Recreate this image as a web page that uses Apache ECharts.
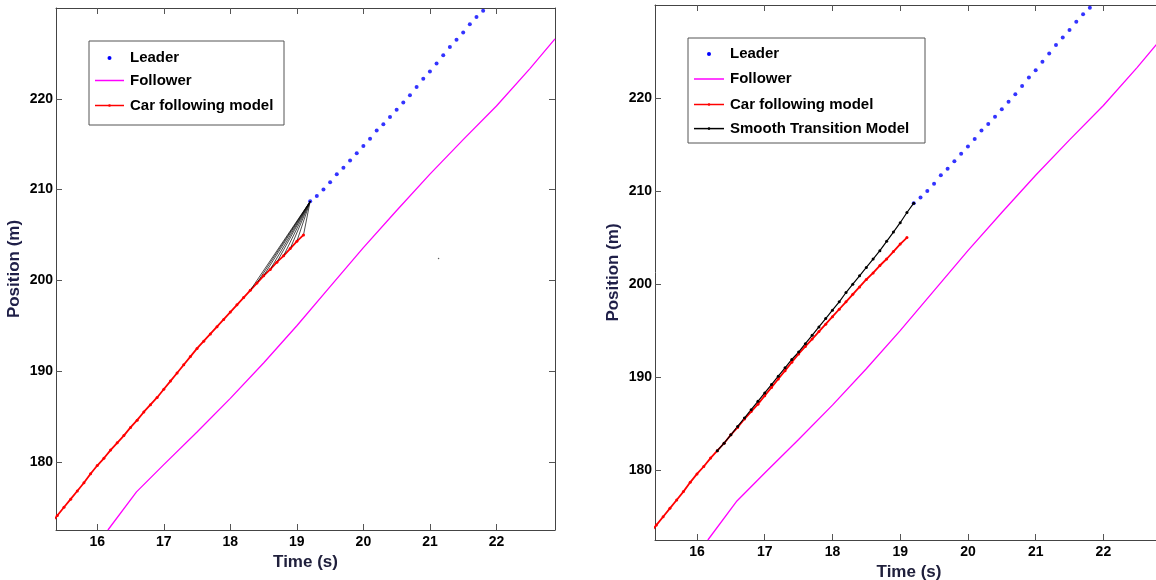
<!DOCTYPE html>
<html>
<head>
<meta charset="utf-8">
<title>Position vs time</title>
<script src="https://cdn.jsdelivr.net/npm/echarts@6/dist/echarts.min.js"></script>
<style>
  html, body { margin: 0; padding: 0; background: #fff; }
  #chart { width: 1156px; height: 580px; }
</style>
</head>
<body>
<div id="chart"></div>
<script>
// tick labels
const timeTicks = [16, 17, 18, 19, 20, 21, 22]
const posTicks = [180, 190, 200, 210, 220]

// leader, one sample every 0.1 s
const leaderTime = [19.2, 19.3, 19.4, 19.5, 19.6, 19.7, 19.8, 19.9, 20.0, 20.1, 20.2, 20.3, 20.4, 20.5,
  20.6, 20.7, 20.8, 20.9, 21.0, 21.1, 21.2, 21.3, 21.4, 21.5, 21.6, 21.7, 21.8]
const leaderPos = [208.7, 209.3, 210.0, 210.8, 211.7, 212.4, 213.2, 214.0, 214.8, 215.6, 216.5, 217.2, 218.0, 218.8,
  219.6, 220.4, 221.3, 222.2, 223.0, 223.9, 224.8, 225.7, 226.5, 227.3, 228.2, 229.0, 229.7]

// follower
const followerTime = [16.16, 16.59, 17.0, 17.5, 18.0, 18.5, 19.0, 19.5, 20.0, 20.5, 21.0, 21.5, 22.0, 22.5, 22.88]
const followerPos = [172.5, 176.7, 179.7, 183.3, 187.0, 190.9, 195.0, 199.3, 203.6, 207.7, 211.7, 215.5, 219.2, 223.3, 226.6]

// car following model
const cfmTime = [15.3, 15.4, 15.5, 15.6, 15.7, 15.8, 15.9, 16.0, 16.1, 16.2, 16.3, 16.4, 16.5, 16.6, 16.7, 16.8, 16.9,
  17.0, 17.1, 17.2, 17.3, 17.4, 17.5, 17.6, 17.7, 17.8, 17.9, 18.0, 18.1, 18.2, 18.3, 18.4, 18.5, 18.6,
  18.7, 18.8, 18.9, 19.0, 19.1]
const cfmPos = [173.2, 174.1, 175.0, 175.9, 176.8, 177.7, 178.7, 179.6, 180.4, 181.3, 182.1, 182.9, 183.8, 184.6, 185.5, 186.3, 187.1,
  188.0, 188.9, 189.8, 190.7, 191.6, 192.5, 193.3, 194.1, 194.9, 195.7, 196.5, 197.3, 198.1, 198.9, 199.7, 200.5, 201.2,
  202.0, 202.7, 203.5, 204.3, 205.0]

// smooth transition model (right panel)
const stmTime = [16.3, 16.4, 16.5, 16.6, 16.7, 16.8, 16.9, 17.0, 17.1, 17.2, 17.3, 17.4, 17.5, 17.6, 17.7,
  17.8, 17.9, 18.0, 18.1, 18.2, 18.3, 18.4, 18.5, 18.6, 18.7, 18.8, 18.9, 19.0, 19.1, 19.2]
const stmPos = [182.1, 182.9, 183.8, 184.7, 185.6, 186.5, 187.4, 188.3, 189.2, 190.1, 191.0, 191.9, 192.7, 193.6, 194.5,
  195.4, 196.3, 197.2, 198.1, 199.1, 200.0, 200.9, 201.8, 202.7, 203.6, 204.6, 205.6, 206.6, 207.7, 208.7]

// left panel: start times of the transition trials that fan out to the leader
const fanTime = [18.3, 18.4, 18.5, 18.6, 18.7, 18.8, 18.9, 19.0, 19.1]

// stray point in the left panel
const strayTime = [21.13]
const strayPos = [202.4]

const legendLeft = ['Leader', 'Follower', 'Car following model']
const legendRight = ['Leader', 'Follower', 'Car following model', 'Smooth Transition Model']

const FONT = '"Liberation Sans", Arial, sans-serif'
const look = {
  'Leader': { color: '#0000ff', kind: 'dot' },
  'Follower': { color: '#ff00ff', kind: 'line' },
  'Car following model': { color: '#ff0000', kind: 'marked' },
  'Smooth Transition Model': { color: '#000000', kind: 'marked' }
}

function zip (xs, ys) {
  return xs.map((x, i) => [x, ys[i]])
}

function posAt (t) {
  const i = cfmTime.findIndex(v => Math.abs(v - t) < 1e-6)
  return cfmPos[i]
}

function xAxis (grid, position, label, margin, gap) {
  return {
    type: 'value', gridIndex: grid, position: position,
    min: 15.38, max: 22.88,
    name: label ? 'Time (s)' : '', nameLocation: 'middle', nameGap: gap,
    nameTextStyle: { color: '#20203c', fontWeight: 'bold', fontSize: 17, fontFamily: FONT },
    axisLine: { show: true, onZero: false, lineStyle: { color: '#444', width: 1 } },
    axisTick: { show: true, inside: true, length: 6, customValues: timeTicks, lineStyle: { color: '#555' } },
    axisLabel: { show: label, customValues: timeTicks, margin: margin, color: '#000', fontWeight: 'bold', fontSize: 14, fontFamily: FONT },
    splitLine: { show: false }
  }
}

function yAxis (grid, position, label) {
  return {
    type: 'value', gridIndex: grid, position: position,
    min: 172.5, max: 230,
    name: label ? 'Position (m)' : '', nameLocation: 'middle', nameGap: 33,
    nameTextStyle: { color: '#1f1f48', fontWeight: 'bold', fontSize: 17, fontFamily: FONT },
    axisLine: { show: true, onZero: false, lineStyle: { color: '#444', width: 1 } },
    axisTick: { show: true, inside: true, length: 6, customValues: posTicks, lineStyle: { color: '#555' } },
    axisLabel: { show: label, customValues: posTicks, margin: 3, color: '#000', fontWeight: 'bold', fontSize: 14, fontFamily: FONT },
    splitLine: { show: false }
  }
}

function panelSeries (ax, withStm) {
  const list = [
    {
      name: 'Follower', type: 'line', xAxisIndex: ax, yAxisIndex: ax,
      data: zip(followerTime, followerPos), showSymbol: false,
      lineStyle: { color: look['Follower'].color, width: 1.3 }
    },
    {
      name: 'Car following model', type: 'line', xAxisIndex: ax, yAxisIndex: ax,
      data: zip(cfmTime, cfmPos), symbol: 'circle', symbolSize: 3, showAllSymbol: true,
      itemStyle: { color: look['Car following model'].color },
      lineStyle: { color: look['Car following model'].color, width: 1.8 }
    }
  ]
  if (withStm) {
    list.push({
      name: 'Smooth Transition Model', type: 'line', xAxisIndex: ax, yAxisIndex: ax,
      data: zip(stmTime, stmPos), symbol: 'circle', symbolSize: 3, showAllSymbol: true,
      itemStyle: { color: '#000' },
      lineStyle: { color: '#000', width: 1.2 }
    })
  } else {
    fanTime.forEach(t => {
      list.push({
        name: 'fan', type: 'line', xAxisIndex: ax, yAxisIndex: ax,
        data: [[t, posAt(t)], [leaderTime[0], leaderPos[0]]], showSymbol: false,
        lineStyle: { color: '#000', width: 0.7 }
      })
    })
    list.push({
      name: 'stray', type: 'scatter', xAxisIndex: ax, yAxisIndex: ax,
      data: zip(strayTime, strayPos), symbolSize: 1.5, itemStyle: { color: '#333' }
    })
  }
  list.push({
    name: 'Leader', type: 'scatter', xAxisIndex: ax, yAxisIndex: ax,
    data: zip(leaderTime, leaderPos), symbol: 'circle', symbolSize: 4,
    itemStyle: { color: look['Leader'].color }
  })
  return list
}

// legend drawn as a boxed list, like the original figure
function legendBox (box, names, rowsY, sx, tx) {
  const els = [{
    type: 'rect', shape: { x: box[0], y: box[1], width: box[2], height: box[3] },
    style: { fill: '#fff', stroke: '#555', lineWidth: 1 }, z: 100
  }]
  names.forEach((n, i) => {
    const y = rowsY[i]
    const c = look[n].color
    if (look[n].kind === 'dot') {
      els.push({ type: 'circle', shape: { cx: (sx[0] + sx[1]) / 2, cy: y, r: 2 }, style: { fill: c }, z: 101 })
    } else {
      els.push({ type: 'line', shape: { x1: sx[0], y1: y, x2: sx[1], y2: y }, style: { stroke: c, lineWidth: 1.5 }, z: 101 })
      if (look[n].kind === 'marked') {
        els.push({ type: 'circle', shape: { cx: (sx[0] + sx[1]) / 2, cy: y, r: 1.3 }, style: { fill: c }, z: 101 })
      }
    }
    els.push({
      type: 'text', z: 101,
      style: { text: n, x: tx, y: y, verticalAlign: 'middle', fill: '#000', font: 'bold 15px ' + FONT }
    })
  })
  return els
}

const chart = echarts.init(document.getElementById('chart'))
chart.setOption({
  animation: false,
  backgroundColor: '#fff',
  grid: [
    { left: 56, top: 8, width: 499, height: 522, outerBoundsMode: 'none' },
    { left: 655, top: 5, width: 508, height: 535, outerBoundsMode: 'none' }
  ],
  xAxis: [xAxis(0, 'bottom', true, 5, 23), xAxis(1, 'bottom', true, 5, 22),
    xAxis(0, 'top', false, 5, 23), xAxis(1, 'top', false, 5, 23)],
  yAxis: [yAxis(0, 'left', true), yAxis(1, 'left', true), yAxis(0, 'right', false), yAxis(1, 'right', false)],
  series: panelSeries(0, false).concat(panelSeries(1, true)),
  graphic: legendBox([89, 41, 195, 84], legendLeft, [58, 80.5, 105.5], [95, 124], 130)
    .concat(legendBox([688, 38, 237, 105], legendRight, [54, 79, 104.5, 128.6], [694, 724], 730))
})
</script>
</body>
</html>
